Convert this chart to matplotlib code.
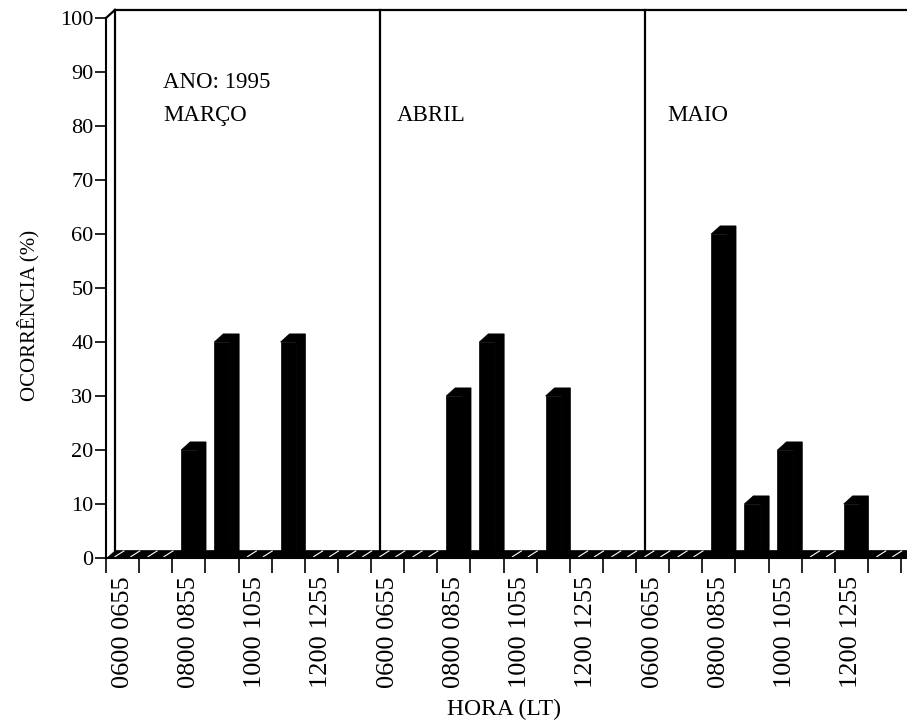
import matplotlib
matplotlib.use("Agg")
import matplotlib.pyplot as plt
from matplotlib.patches import Polygon

plt.rcParams["font.family"] = ["Liberation Serif", "DejaVu Serif"]

# Hourly bins (LT) and monthly occurrence percentages, 1995
hours = ["0600 0655", "0700 0755", "0800 0855", "0900 0955",
         "1000 1055", "1100 1155", "1200 1255", "1300 1355"]
months = ["MARÇO", "ABRIL", "MAIO"]
marco = [0, 0, 20, 40, 0, 40, 0, 0]
abril = [0, 0, 30, 40, 0, 30, 0, 0]
maio = [0, 0, 60, 10, 20, 0, 10, 0]
year_label = "ANO: 1995"
y_ticks = list(range(0, 101, 10))

series = [marco, abril, maio]
nb = len(hours)
ntot = nb * len(months)

fig = plt.figure(figsize=(9.07, 7.26), dpi=100)
ax = fig.add_axes([106 / 907, 168 / 726, 801 / 907, 540 / 726])
xmax = ntot + 6 / 33.125
ax.set_xlim(0, xmax)
ax.set_ylim(0, 100)

# pseudo-3D depth offsets (data units)
dx, dy = 0.27, 1.5
bar_off, bar_w = 0.27, 0.48

# floor slab
ax.add_patch(Polygon([(0, 0), (xmax, 0), (xmax, dy), (dx, dy)],
                     closed=True, fc="black", ec="black", lw=0.5,
                     clip_on=False, zorder=2))

# back wall and top edge
wall = dict(color="black", lw=1.6, clip_on=False, zorder=3)
ax.plot([dx, dx], [dy, 100 + dy], **wall)
ax.plot([dx, xmax], [100 + dy, 100 + dy], **wall)
ax.plot([0, dx], [100, 100 + dy], **wall)
for m in range(1, len(months)):
    ax.plot([m * nb + dx] * 2, [dy, 100 + dy], **wall)

# bars
for m, vals in enumerate(series):
    xs = [m * nb + i + bar_off for i in range(nb)]
    ax.bar(xs, vals, width=bar_w, align="edge", color="black",
           edgecolor="black", lw=0.5, zorder=4)
    for x, v in zip(xs, vals):
        xl, xr = x, x + bar_w
        if v > 0:
            ax.add_patch(Polygon([(xl, v), (xl + dx, v + dy), (xr + dx, v + dy),
                                  (xr + dx, dy), (xr, 0), (xr, v)],
                                 closed=True, fc="black", ec="black", lw=0.5,
                                 zorder=4))
        else:
            ax.plot([xl, xl + dx], [0.25, dy - 0.2], color="white", lw=0.8,
                    zorder=5, clip_on=False)
            ax.plot([xr, xr + dx], [0.25, dy - 0.2], color="white", lw=0.8,
                    zorder=5, clip_on=False)

# axes styling
for s in ("top", "right"):
    ax.spines[s].set_visible(False)
ax.spines["left"].set_linewidth(1.5)
ax.spines["bottom"].set_linewidth(1.5)
ax.spines["left"].set_zorder(6)
ax.spines["bottom"].set_zorder(6)

ax.set_yticks(y_ticks)
ax.set_yticklabels([str(t) for t in y_ticks], fontsize=16)
ax.tick_params(axis="y", length=8, width=1.2, pad=1)

ax.set_xticks(range(ntot + 1))
ax.set_xticklabels([])
ax.set_xticks([m * nb + i + 0.5 for m in range(len(months))
               for i in range(0, nb, 2)], minor=True)
ax.set_xticklabels([hours[i] for m in range(len(months))
                    for i in range(0, nb, 2)], minor=True,
                   rotation=90, fontsize=19)
ax.tick_params(axis="x", which="major", length=11, width=1.2)
ax.tick_params(axis="x", which="minor", length=0, pad=13)

# panel titles
ax.text(1.72, 88, year_label, fontsize=16.5, va="center", ha="left")
for m, name in enumerate(months):
    x0 = 1.72 if m == 0 else m * nb + (0.78 if m == 1 else 0.94)
    ax.text(x0, 81.9, name, fontsize=16.5, va="center", ha="left")

fig.text(28 / 907, 1 - 315 / 726, "OCORRÊNCIA (%)", rotation=90,
         fontsize=15, ha="center", va="center")
fig.text(504 / 907, 1 - 709 / 726, "HORA (LT)", fontsize=17,
         ha="center", va="center")

fig.savefig("out.png", dpi=100)
